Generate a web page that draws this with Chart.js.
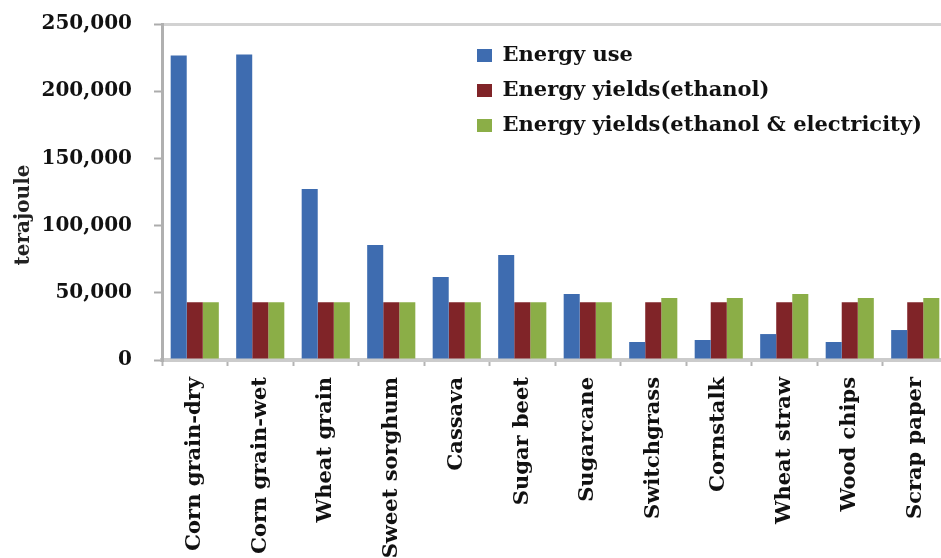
<!DOCTYPE html>
<html>
<head>
<meta charset="utf-8">
<title>Energy use and energy yields by feedstock</title>
<script src="https://cdn.jsdelivr.net/npm/chart.js@4.4.1/dist/chart.umd.min.js"></script>
<style>
  html, body { margin: 0; padding: 0; background: #ffffff; }
  #wrap { position: relative; width: 941px; height: 558px; }
</style>
</head>
<body>
<div id="wrap"><canvas id="chart"></canvas></div>
<script>
// Feedstocks along the x axis
const categories = [
  'Corn grain-dry', 'Corn grain-wet', 'Wheat grain', 'Sweet sorghum', 'Cassava',
  'Sugar beet', 'Sugarcane', 'Switchgrass', 'Cornstalk', 'Wheat straw',
  'Wood chips', 'Scrap paper'
];

// Series values, terajoule
const energyUse = [226500, 227300, 127200, 85600, 61800, 78100, 49100, 13400, 14900, 19300, 13400, 22300];
const yieldEthanol = [43000, 43000, 43000, 43000, 43000, 43000, 43000, 43000, 43000, 43000, 43000, 43000];
const yieldEthanolElectricity = [43000, 43000, 43000, 43000, 43000, 43000, 43000, 46100, 46100, 49100, 46100, 46100];

// Series names
const seriesNames = ['Energy use', 'Energy yields(ethanol)', 'Energy yields(ethanol & electricity)'];

// Value axis ticks
const yTickValues = [0, 50000, 100000, 150000, 200000, 250000];
const yAxisTitle = 'terajoule';

const FONT = 'DejaVu Serif';
const LEGEND_BOX_X = 477;   // left edge of the legend swatches
const LEGEND_TOP = 31;
const TITLE_SHIFT = 23;     // moves the axis title down from the plot centre
const PLOT_OVERHANG = 7;    // plot area runs slightly past the right edge of the canvas

// Puts the legend inside the plot area, lets the category axis run past
// the right edge, and nudges the y-axis title
const placement = {
  id: 'placement',
  afterLayout(chart) {
    const xs = chart.scales.x;
    if (xs) {
      xs.right += PLOT_OVERHANG;
      xs.width += PLOT_OVERHANG;
      chart.chartArea.right += PLOT_OVERHANG;
      chart.chartArea.width += PLOT_OVERHANG;
      xs.configure();
    }
    const lg = chart.legend;
    if (lg) {
      const pad = lg.options.labels.padding;
      const dx = (LEGEND_BOX_X - pad) - lg.left;
      const dy = LEGEND_TOP - lg.top;
      lg.left += dx; lg.right += dx;
      lg.top += dy; lg.bottom += dy;
    }
    const ys = chart.scales.y;
    if (ys && !ys._titleShifted) {
      const drawTitle = ys.drawTitle.bind(ys);
      ys.drawTitle = function () {
        this.ctx.save();
        this.ctx.translate(0, TITLE_SHIFT);
        drawTitle();
        this.ctx.restore();
      };
      ys._titleShifted = true;
    }
  }
};

new Chart(document.getElementById('chart'), {
  type: 'bar',
  data: {
    labels: categories,
    datasets: [
      { label: seriesNames[0], data: energyUse, backgroundColor: '#3E6CB0' },
      { label: seriesNames[1], data: yieldEthanol, backgroundColor: '#802428' },
      { label: seriesNames[2], data: yieldEthanolElectricity, backgroundColor: '#8BAE47' }
    ]
  },
  options: {
    responsive: true,
    maintainAspectRatio: false,
    animation: false,
    devicePixelRatio: 1,
    layout: { padding: { top: 24, left: 0, right: 0, bottom: 0 } },
    datasets: {
      bar: { barPercentage: 1.0, categoryPercentage: 0.735, borderWidth: 0 }
    },
    plugins: {
      legend: {
        position: 'chartArea',
        align: 'start',
        labels: {
          boxWidth: 15,
          boxHeight: 13,
          padding: 14,
          color: '#111111',
          font: { family: FONT, size: 21, weight: 'bold' }
        }
      },
      tooltip: { enabled: false },
      title: { display: false }
    },
    scales: {
      x: {
        z: 1,
        afterFit(scale) {
          scale.height = 198;
          scale.paddingLeft = 0;
          scale.paddingRight = 0;
        },
        border: { display: true, color: 'rgba(185,185,185,0.75)', width: 4 },
        grid: {
          display: true,
          drawOnChartArea: false,
          drawTicks: true,
          tickLength: 6,
          tickWidth: 2,
          tickColor: '#b4b4b4',
          offset: true
        },
        ticks: {
          autoSkip: false,
          minRotation: 90,
          maxRotation: 90,
          padding: 11,
          color: '#111111',
          font: { family: FONT, size: 21, weight: 'bold' }
        }
      },
      y: {
        min: 0,
        max: 250000,
        afterFit(scale) {
          scale.width = 162;
          scale.paddingTop = 0;
          scale.paddingBottom = 0;
        },
        afterBuildTicks(scale) { scale.ticks = yTickValues.map(v => ({ value: v })); },
        border: { display: true, color: '#b0b0b0', width: 3 },
        grid: {
          drawOnChartArea: true,
          drawTicks: true,
          tickLength: 8,
          tickWidth: 2,
          lineWidth: 3,
          tickColor: '#acacac',
          color: ctx => (ctx.tick && ctx.tick.value === 250000) ? '#d2d2d2' : 'rgba(0,0,0,0)'
        },
        ticks: {
          padding: 22,
          color: '#111111',
          font: { family: FONT, size: 20, weight: 'bold' },
          callback: v => Number(v).toLocaleString('en-US')
        },
        title: {
          display: true,
          text: yAxisTitle,
          color: '#222222',
          padding: { top: 12, bottom: 0 },
          font: { family: FONT, size: 20, weight: 'bold' }
        }
      }
    }
  },
  plugins: [placement]
});
</script>
</body>
</html>
